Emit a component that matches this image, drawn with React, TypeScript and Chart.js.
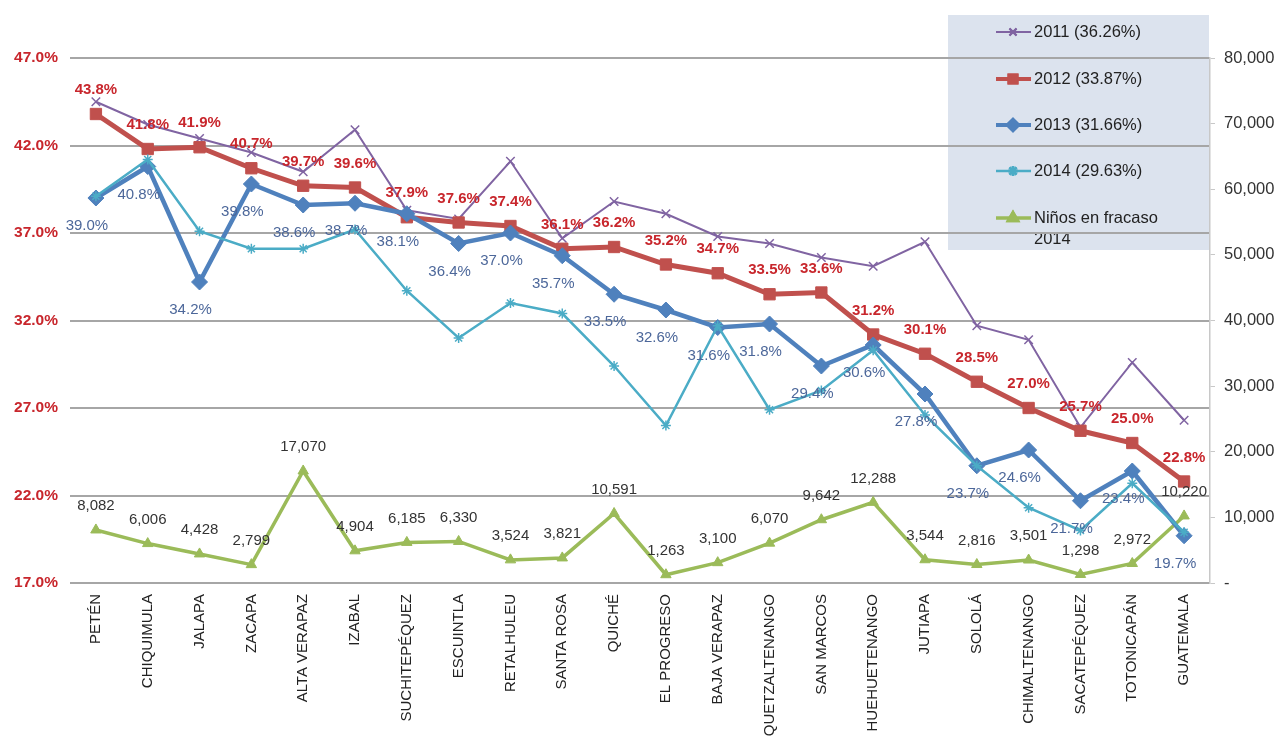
import { useEffect, useRef } from "react";
import { Chart, registerables } from "chart.js";
import { drawPoint } from "chart.js/helpers";

Chart.register(...registerables);

const departments = [
  "PETÉN", "CHIQUIMULA", "JALAPA", "ZACAPA", "ALTA VERAPAZ", "IZABAL",
  "SUCHITEPÉQUEZ", "ESCUINTLA", "RETALHULEU", "SANTA ROSA", "QUICHÉ",
  "EL PROGRESO", "BAJA VERAPAZ", "QUETZALTENANGO", "SAN MARCOS",
  "HUEHUETENANGO", "JUTIAPA", "SOLOLÁ", "CHIMALTENANGO", "SACATEPÉQUEZ",
  "TOTONICAPÁN", "GUATEMALA",
];

const rate2011 = [
  44.5, 43.2, 42.4, 41.6, 40.5, 42.9, 38.3, 37.8, 41.1, 36.7, 38.8,
  38.1, 36.8, 36.4, 35.6, 35.1, 36.5, 31.7, 30.9, 25.9, 29.6, 26.3,
];
const rate2012 = [
  43.8, 41.8, 41.9, 40.7, 39.7, 39.6, 37.9, 37.6, 37.4, 36.1, 36.2,
  35.2, 34.7, 33.5, 33.6, 31.2, 30.1, 28.5, 27.0, 25.7, 25.0, 22.8,
];
const rate2013 = [
  39.0, 40.8, 34.2, 39.8, 38.6, 38.7, 38.1, 36.4, 37.0, 35.7, 33.5,
  32.6, 31.6, 31.8, 29.4, 30.6, 27.8, 23.7, 24.6, 21.7, 23.4, 19.7,
];
const rate2014 = [
  39.1, 41.2, 37.1, 36.1, 36.1, 37.2, 33.7, 31.0, 33.0, 32.4, 29.4,
  26.0, 31.7, 26.9, 28.0, 30.3, 26.6, 23.7, 21.3, 20.0, 22.7, 19.9,
];
const failing2014 = [
  8082, 6006, 4428, 2799, 17070, 4904, 6185, 6330, 3524, 3821, 10591,
  1263, 3100, 6070, 9642, 12288, 3544, 2816, 3501, 1298, 2972, 10220,
];

const legendNames = [
  "2011 (36.26%)", "2012 (33.87%)", "2013 (31.66%)", "2014 (29.63%)",
  "Niños en fracaso\n2014",
];

const PURPLE = "#8064a2";
const RED = "#c0504d";
const BLUE = "#4f81bd";
const CYAN = "#4bacc6";
const GREEN = "#9bbb59";
const FONT = "'Liberation Sans', Arial, sans-serif";

const nf = new Intl.NumberFormat("en-US");

// background + legend box, drawn under the grid
const legendPlugin = {
  id: "boxLegend",
  beforeDraw(chart: any) {
    const { ctx } = chart;
    ctx.save();
    ctx.fillStyle = "#ffffff";
    ctx.fillRect(0, 0, chart.width, chart.height);
    ctx.fillStyle = "#dce3ee";
    ctx.fillRect(948, 15, 261, 235);

    const rows = [32, 79, 125, 171, 218];
    chart.data.datasets.forEach((ds: any, i: number) => {
      const y = rows[i];
      ctx.strokeStyle = ds.borderColor;
      ctx.lineWidth = Math.min(ds.borderWidth, 4);
      ctx.beginPath();
      ctx.moveTo(996, y);
      ctx.lineTo(1031, y);
      ctx.stroke();
      drawPoint(ctx, {
        pointStyle: ds.pointStyle,
        radius: Math.min(ds.pointRadius, 5),
        borderWidth: ds.pointBorderWidth ?? 1,
        rotation: 0,
      } as any, 1013, y);
      ctx.fillStyle = ds.pointBackgroundColor;
      ctx.strokeStyle = ds.pointBorderColor;
      ctx.fill();
      ctx.stroke();

      ctx.fillStyle = "#222";
      ctx.font = `16.5px ${FONT}`;
      ctx.textBaseline = "middle";
      ctx.textAlign = "left";
      legendNames[i].split("\n").forEach((line, k) => {
        ctx.fillText(line, 1034, y + k * 21);
      });
    });
    ctx.restore();
  },
};

// value labels for 2012, 2013 and the failing children series
const labelPlugin = {
  id: "valueLabels",
  afterDatasetsDraw(chart: any) {
    const { ctx } = chart;
    ctx.save();
    ctx.textAlign = "center";
    ctx.textBaseline = "middle";
    const draw = (idx: number, fmt: (v: number) => string, dx: number, dy: number, font: string, color: string) => {
      const meta = chart.getDatasetMeta(idx);
      const values = chart.data.datasets[idx].data;
      ctx.font = font;
      ctx.fillStyle = color;
      meta.data.forEach((pt: any, i: number) => {
        ctx.fillText(fmt(values[i]), pt.x + dx, pt.y + dy);
      });
    };
    draw(1, (v) => v.toFixed(1) + "%", 0, -24, `bold 15px ${FONT}`, "#c8262c");
    draw(2, (v) => v.toFixed(1) + "%", -9, 28, `15px ${FONT}`, "#4c679a");
    draw(4, (v) => nf.format(v), 0, -24, `15px ${FONT}`, "#333333");
    ctx.restore();
  },
};

export default function App() {
  const canvasRef = useRef<HTMLCanvasElement>(null);

  useEffect(() => {
    if (!canvasRef.current) return;

    const chart = new Chart(canvasRef.current, {
      type: "line",
      data: {
        labels: departments,
        datasets: [
          {
            label: legendNames[0],
            data: rate2011,
            yAxisID: "y",
            borderColor: PURPLE,
            borderWidth: 2,
            pointStyle: "crossRot",
            pointRadius: 6,
            pointBorderWidth: 1.5,
            pointBorderColor: PURPLE,
            pointBackgroundColor: PURPLE,
            order: 3,
          },
          {
            label: legendNames[1],
            data: rate2012,
            yAxisID: "y",
            borderColor: RED,
            borderWidth: 5,
            pointStyle: "rect",
            pointRadius: 8,
            pointBorderWidth: 1,
            pointBorderColor: RED,
            pointBackgroundColor: RED,
            order: 2,
          },
          {
            label: legendNames[2],
            data: rate2013,
            yAxisID: "y",
            borderColor: BLUE,
            borderWidth: 4.5,
            pointStyle: "rectRot",
            pointRadius: 8,
            pointBorderWidth: 1,
            pointBorderColor: BLUE,
            pointBackgroundColor: BLUE,
            order: 1,
          },
          {
            label: legendNames[3],
            data: rate2014,
            yAxisID: "y",
            borderColor: CYAN,
            borderWidth: 2.5,
            pointStyle: "star",
            pointRadius: 5,
            pointBorderWidth: 1.5,
            pointBorderColor: CYAN,
            pointBackgroundColor: CYAN,
            order: 0,
          },
          {
            label: legendNames[4],
            data: failing2014,
            yAxisID: "y1",
            borderColor: GREEN,
            borderWidth: 3.5,
            pointStyle: "triangle",
            pointRadius: 6,
            pointBorderWidth: 1,
            pointBorderColor: GREEN,
            pointBackgroundColor: GREEN,
            order: 4,
          },
        ],
      },
      options: {
        responsive: false,
        animation: false,
        layout: { padding: { top: 58, left: 0, right: 0, bottom: 0 } },
        plugins: {
          legend: { display: false },
          tooltip: { enabled: false },
        },
        scales: {
          x: {
            offset: true,
            grid: { display: false },
            border: { display: false },
            ticks: {
              autoSkip: false,
              minRotation: 90,
              maxRotation: 90,
              padding: 3,
              color: "#222",
              font: { family: FONT, size: 15 },
            },
            afterFit: (s: any) => {
              s.height = 153;
            },
          },
          y: {
            position: "left",
            min: 17,
            max: 47,
            grid: { color: "#a6a6a6", lineWidth: 2, drawTicks: false },
            border: { display: false },
            ticks: {
              stepSize: 5,
              padding: 12,
              color: "#c8262c",
              font: { family: FONT, size: 15.5, weight: "bold" },
              callback: (v: any) => Number(v).toFixed(1) + "%",
            },
            afterFit: (s: any) => {
              s.width = 70;
            },
          },
          y1: {
            position: "right",
            min: 0,
            max: 80000,
            grid: { drawOnChartArea: false, color: "#c8c8c8", tickLength: 5 },
            border: { display: true, color: "#c8c8c8", width: 1.5 },
            ticks: {
              stepSize: 10000,
              padding: 9,
              color: "#333",
              font: { family: FONT, size: 16.5 },
              callback: (v: any) => (Number(v) === 0 ? "-" : nf.format(Number(v))),
            },
            afterFit: (s: any) => {
              s.width = 68;
            },
          },
        },
      },
      plugins: [legendPlugin, labelPlugin],
    });

    return () => chart.destroy();
  }, []);

  return (
    <div style={{ position: "fixed", left: 0, top: 0, width: 1278, height: 736, background: "#fff" }}>
      <canvas ref={canvasRef} width={1278} height={736} style={{ width: 1278, height: 736 }} />
    </div>
  );
}
